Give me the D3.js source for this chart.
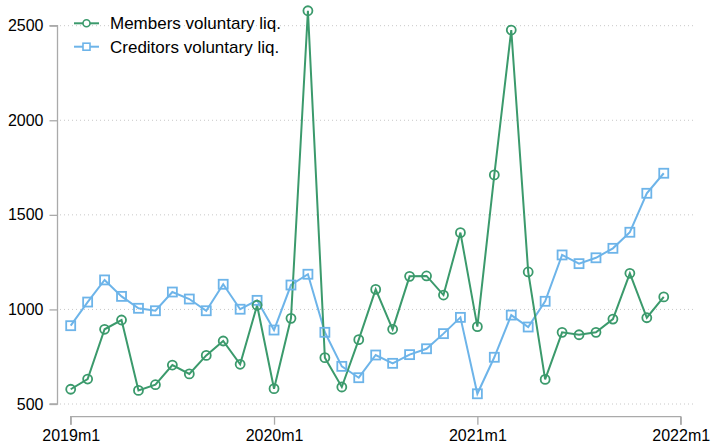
<!DOCTYPE html>
<html>
<head>
<meta charset="utf-8">
<script src="https://cdn.jsdelivr.net/npm/d3@7"></script>
<style>
html,body{margin:0;padding:0;background:#fff;}
svg{display:block;font-family:"Liberation Sans",Arial,Helvetica,sans-serif;}
</style>
</head>
<body>
<svg id="chart" width="711" height="445"></svg>
<script>
// Monthly data 2019m1 .. 2021m12
const startYear = 2019;
const members = [578,632,895,944,572,602,706,659,757,833,710,1022,
                 581,953,2579,745,590,840,1106,895,1175,1177,1076,1406,
                 909,1711,2477,1198,630,879,866,879,949,1191,956,1066];
const creditors = [914,1039,1156,1069,1006,993,1092,1055,993,1133,1001,1048,
                   891,1129,1186,879,699,639,759,715,761,792,872,958,
                   554,747,970,907,1043,1288,1242,1273,1323,1408,1614,1720];
const seriesNames = ["Members voluntary liq.","Creditors voluntary liq."];
const yTicks = [500,1000,1500,2000,2500];
const xTickMonths = [0,12,24,36];
const xTickLabels = ["2019m1","2020m1","2021m1","2022m1"];

const green = "#3b9a6c", blue = "#6db4e9";
const svg = d3.select("#chart");

const x = d3.scaleLinear().domain([0,36]).range([70.7,680.7]);
const y = d3.scaleLinear().domain([500,2500]).range([404,25.7]);

// gridlines
svg.append("g").selectAll("line").data(yTicks).join("line")
  .attr("x1",60).attr("x2",693)
  .attr("y1",d=>y(d)).attr("y2",d=>y(d))
  .attr("stroke","#c8c8c8").attr("stroke-width",1)
  .attr("stroke-dasharray","1,3");

// y axis
const yAxis = d3.axisLeft(y).tickValues(yTicks).tickSize(8).tickPadding(6).tickFormat(d3.format("d"));
const gy = svg.append("g").attr("transform","translate(57.5,0)").call(yAxis);
gy.select(".domain").attr("stroke","#aaaaaa").attr("stroke-width",1.3).attr("d",`M-8,${y(2500)}H0V${y(500)}H-8`);
gy.selectAll(".tick line").attr("stroke","#aaaaaa").attr("stroke-width",1.3);
gy.selectAll(".tick text").attr("font-size",16).attr("fill","#000").attr("font-family","Liberation Sans, Arial, sans-serif");

// x axis
const xAxis = d3.axisBottom(x).tickValues(xTickMonths).tickSize(8).tickPadding(5)
  .tickFormat((d,i)=>xTickLabels[i]);
const gx = svg.append("g").attr("transform","translate(0,416.7)").call(xAxis);
gx.select(".domain").attr("stroke","#aaaaaa").attr("stroke-width",1.3).attr("d",`M${x(0)},8V0H${x(36)}V8`);
gx.selectAll(".tick line").attr("stroke","#aaaaaa").attr("stroke-width",1.3);
gx.selectAll(".tick text").attr("font-size",16).attr("fill","#000").attr("font-family","Liberation Sans, Arial, sans-serif");

const line = d3.line().x((d,i)=>x(i)).y(d=>y(d));

// series lines
svg.append("path").datum(creditors).attr("d",line)
  .attr("fill","none").attr("stroke",blue).attr("stroke-width",2);
svg.append("path").datum(members).attr("d",line)
  .attr("fill","none").attr("stroke",green).attr("stroke-width",2);

// markers
svg.append("g").selectAll("rect").data(creditors).join("rect")
  .attr("x",(d,i)=>x(i)-4.5).attr("y",d=>y(d)-4.5)
  .attr("width",9).attr("height",9)
  .attr("fill","none").attr("stroke",blue).attr("stroke-width",1.8);
svg.append("g").selectAll("circle").data(members).join("circle")
  .attr("cx",(d,i)=>x(i)).attr("cy",d=>y(d)).attr("r",4.5)
  .attr("fill","none").attr("stroke",green).attr("stroke-width",1.8);

// legend
const leg = svg.append("g");
const rows = [{name:seriesNames[0],c:green,t:"circle",yy:23.3},{name:seriesNames[1],c:blue,t:"rect",yy:46.7}];
rows.forEach(r=>{
  leg.append("line").attr("x1",74).attr("x2",99).attr("y1",r.yy).attr("y2",r.yy)
    .attr("stroke",r.c).attr("stroke-width",2);
  if(r.t==="circle"){
    leg.append("circle").attr("cx",86.5).attr("cy",r.yy).attr("r",3.5)
      .attr("fill","#fff").attr("stroke",r.c).attr("stroke-width",1.6);
  } else {
    leg.append("rect").attr("x",83).attr("y",r.yy-3.5).attr("width",7).attr("height",7)
      .attr("fill","#fff").attr("stroke",r.c).attr("stroke-width",1.6);
  }
  leg.append("text").attr("x",110).attr("y",r.yy).attr("dy","0.35em")
    .attr("font-size",17).attr("fill","#000").text(r.name);
});
</script>
</body>
</html>
